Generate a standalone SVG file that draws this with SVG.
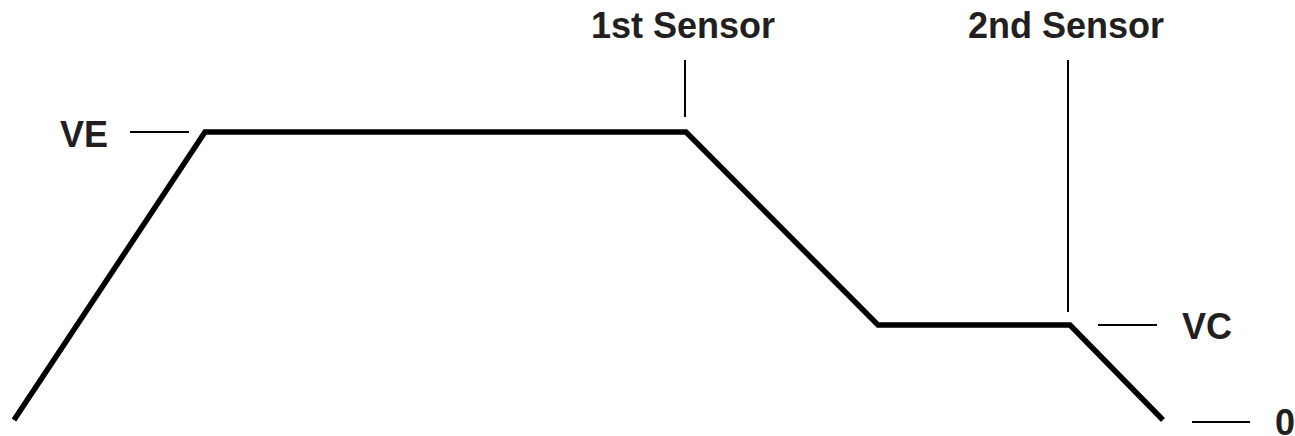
<svg xmlns="http://www.w3.org/2000/svg" width="1295" height="436" viewBox="0 0 1295 436">
<style>
.lbl{font-family:"Liberation Sans",Arial,sans-serif;font-weight:bold;font-size:36px;fill:#231f20}
.main{fill:none;stroke:#000;stroke-width:5.5;stroke-linejoin:miter}
.tick{stroke:#000;stroke-width:2;fill:none}
</style>
<rect width="1295" height="436" fill="#fff"/>
<g id="connectors">
<polyline class="main" points="14,420 205,132 686,132 878,325 1070,325 1163,420"/>
<line class="tick" x1="130" y1="132" x2="189" y2="132"/>
<line class="tick" x1="685" y1="60" x2="685" y2="117"/>
<line class="tick" x1="1068" y1="60" x2="1068" y2="312"/>
<line class="tick" x1="1098" y1="325" x2="1157" y2="325"/>
<line class="tick" x1="1192" y1="422" x2="1250" y2="422"/>
</g>
<g id="ve"><text class="lbl" x="60" y="147">VE</text></g>
<g id="s1"><text class="lbl" x="683" y="38" text-anchor="middle">1st Sensor</text></g>
<g id="s2"><text class="lbl" x="1066" y="38" text-anchor="middle">2nd Sensor</text></g>
<g id="vc"><text class="lbl" x="1182" y="339">VC</text></g>
<g id="zero"><text class="lbl" x="1275" y="435">0</text></g>
</svg>
